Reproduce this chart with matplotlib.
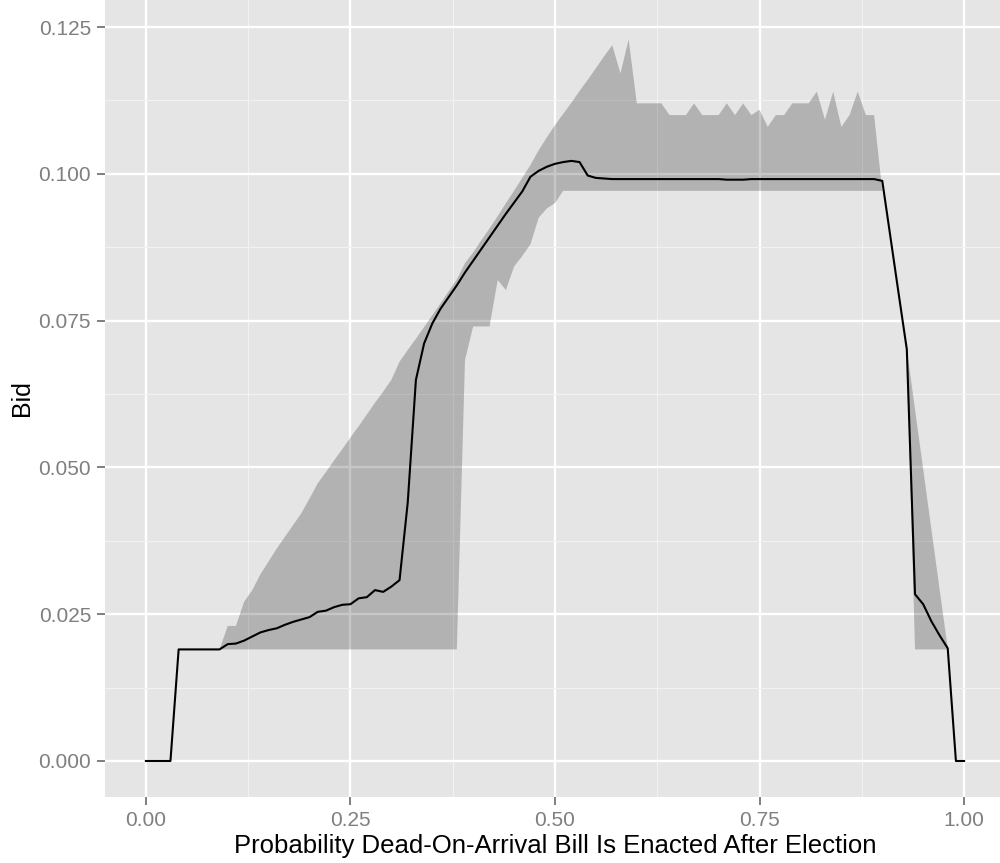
import numpy as np
import matplotlib
matplotlib.use("Agg")
import matplotlib.pyplot as plt
from matplotlib.ticker import MultipleLocator, FixedLocator

plt.rcParams['font.family'] = ['Liberation Sans', 'DejaVu Sans']

prob = np.round(np.arange(101) * 0.01, 2)

# mean bid at each probability
bid = [
    0.0, 0.0, 0.0, 0.0, 0.019, 0.019, 0.019, 0.019, 0.019, 0.019,
    0.0199, 0.0200, 0.0205, 0.0212, 0.0219, 0.0223, 0.0226, 0.0232, 0.0237, 0.0241,
    0.0245, 0.0254, 0.0256, 0.0262, 0.0266, 0.0267, 0.0277, 0.0279, 0.0291, 0.0288,
    0.0297, 0.0308, 0.0440, 0.0649, 0.0711, 0.0745, 0.0770, 0.0790, 0.0810, 0.0832,
    0.0852, 0.0872, 0.0892, 0.0912, 0.0932, 0.0951, 0.0970, 0.0995, 0.1005, 0.1012,
    0.1017, 0.1020, 0.1022, 0.1020, 0.0997, 0.0993, 0.0992, 0.0991, 0.0991, 0.0991,
    0.0991, 0.0991, 0.0991, 0.0991, 0.0991, 0.0991, 0.0991, 0.0991, 0.0991, 0.0991,
    0.0991, 0.0990, 0.0990, 0.0990, 0.0991, 0.0991, 0.0991, 0.0991, 0.0991, 0.0991,
    0.0991, 0.0991, 0.0991, 0.0991, 0.0991, 0.0991, 0.0991, 0.0991, 0.0991, 0.0991,
    0.0988, 0.0892, 0.0796, 0.0701, 0.0284, 0.0267, 0.0238, 0.0214, 0.0192, 0.0,
    0.0,
]

nan = np.nan
# band of bids (min / max)
bid_low = [
    nan, nan, nan, nan, nan, nan, nan, nan, nan, 0.019,
    0.019, 0.019, 0.019, 0.019, 0.019, 0.019, 0.019, 0.019, 0.019, 0.019,
    0.019, 0.019, 0.019, 0.019, 0.019, 0.019, 0.019, 0.019, 0.019, 0.019,
    0.019, 0.019, 0.019, 0.019, 0.019, 0.019, 0.019, 0.019, 0.019, 0.0683,
    0.0740, 0.0740, 0.0740, 0.0819, 0.0802, 0.0842, 0.0860, 0.0880, 0.0925, 0.0941,
    0.0950, 0.0971, 0.0971, 0.0971, 0.0971, 0.0971, 0.0971, 0.0971, 0.0971, 0.0971,
    0.0971, 0.0971, 0.0971, 0.0971, 0.0971, 0.0971, 0.0971, 0.0971, 0.0971, 0.0971,
    0.0971, 0.0971, 0.0971, 0.0971, 0.0971, 0.0971, 0.0971, 0.0971, 0.0971, 0.0971,
    0.0971, 0.0971, 0.0971, 0.0971, 0.0971, 0.0971, 0.0971, 0.0971, 0.0971, 0.0971,
    0.0971, nan, nan, 0.0701, 0.019, 0.019, 0.019, 0.019, 0.019, nan,
    nan,
]
bid_high = [
    nan, nan, nan, nan, nan, nan, nan, nan, nan, 0.019,
    0.0230, 0.0230, 0.0271, 0.0291, 0.0318, 0.0340, 0.0362, 0.0382, 0.0402, 0.0422,
    0.0447, 0.0473, 0.0492, 0.0512, 0.0531, 0.0551, 0.0570, 0.0590, 0.0610, 0.0629,
    0.0649, 0.0680, 0.0700, 0.0719, 0.0739, 0.0759, 0.0779, 0.0800, 0.0820, 0.0848,
    0.0866, 0.0887, 0.0907, 0.0928, 0.0950, 0.0971, 0.0993, 0.1015, 0.1040, 0.1062,
    0.1083, 0.1102, 0.1121, 0.1141, 0.1160, 0.1180, 0.1200, 0.1219, 0.1171, 0.1229,
    0.1120, 0.1120, 0.1120, 0.1120, 0.1100, 0.1100, 0.1100, 0.1120, 0.1100, 0.1100,
    0.1100, 0.1120, 0.1100, 0.1120, 0.1100, 0.1109, 0.1080, 0.1100, 0.1100, 0.1120,
    0.1120, 0.1120, 0.1140, 0.1092, 0.1140, 0.1080, 0.1100, 0.1140, 0.1100, 0.1100,
    0.0971, nan, nan, 0.0701, 0.0599, 0.0497, 0.0395, 0.0293, 0.0192, nan,
    nan,
]

x_ticks = [0.0, 0.25, 0.5, 0.75, 1.0]
y_ticks = [0.0, 0.025, 0.05, 0.075, 0.1, 0.125]

fig = plt.figure(figsize=(10, 8.63), dpi=100)
ax = fig.add_axes([0.105, 0.0765, 0.90, 0.9235])
ax.set_facecolor('#E5E5E5')

ax.fill_between(prob, np.array(bid_low), np.array(bid_high),
                color='black', alpha=0.22, linewidth=0, zorder=2)
ax.plot(prob, bid, color='black', lw=1.5, zorder=3)

ax.set_xlim(-0.05, 1.05)
ax.set_ylim(-0.00613, 0.1296)

ax.xaxis.set_major_locator(FixedLocator(x_ticks))
ax.yaxis.set_major_locator(FixedLocator(y_ticks))
ax.xaxis.set_minor_locator(MultipleLocator(0.125))
ax.yaxis.set_minor_locator(MultipleLocator(0.0125))
ax.set_xticklabels(['%.2f' % v for v in x_ticks])
ax.set_yticklabels(['%.3f' % v for v in y_ticks])

ax.grid(which='major', color='white', lw=1.7, zorder=1)
ax.grid(which='minor', color='#F2F2F2', lw=0.8, zorder=1)
ax.set_axisbelow(True)
for s in ax.spines.values():
    s.set_visible(False)

ax.tick_params(which='major', length=6, width=1.4, color='#7F7F7F',
               labelcolor='#7F7F7F', labelsize=15, pad=4)
ax.tick_params(which='minor', length=0)

ax.set_xlabel('Probability Dead-On-Arrival Bill Is Enacted After Election',
              fontsize=18.5, labelpad=3)
ax.set_ylabel('Bid', fontsize=18, labelpad=3)

fig.savefig('out.png', dpi=100)
